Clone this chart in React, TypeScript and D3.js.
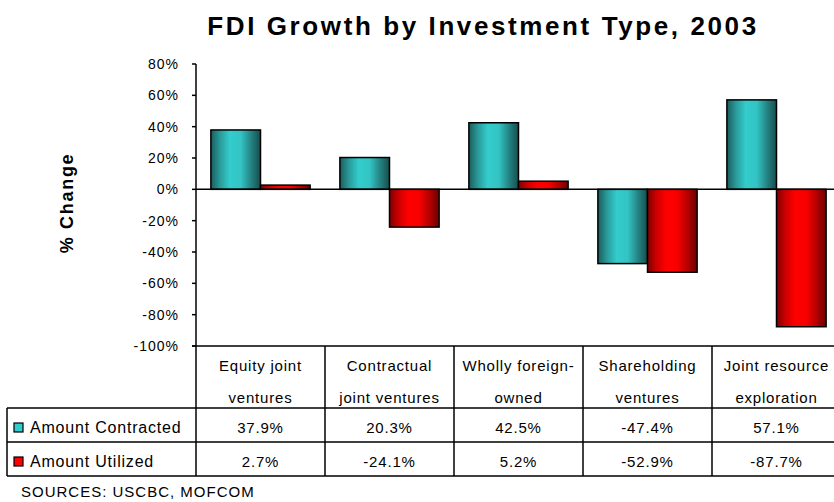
import React, { useEffect, useRef } from 'react';
import * as d3 from 'd3';

const categories = ['Equity joint ventures', 'Contractual joint ventures', 'Wholly foreign-owned', 'Shareholding ventures', 'Joint resource exploration'];
const categoryLines = [
  ['Equity joint', 'ventures'],
  ['Contractual', 'joint ventures'],
  ['Wholly foreign-', 'owned'],
  ['Shareholding', 'ventures'],
  ['Joint resource', 'exploration'],
];
const seriesNames = ['Amount Contracted', 'Amount Utilized'];
const contracted = [37.9, 20.3, 42.5, -47.4, 57.1];
const utilized = [2.7, -24.1, 5.2, -52.9, -87.7];
const yTicks = [80, 60, 40, 20, 0, -20, -40, -60, -80, -100];

const FONT = "'Liberation Sans', Arial, sans-serif";

export default function App() {
  const ref = useRef<SVGSVGElement>(null);

  useEffect(() => {
    const width = 834;
    const height = 502;
    const svg = d3.select(ref.current);
    svg.selectAll('*').remove();

    const left = 196;
    const right = 841;
    const axisBottom = 346;
    const headerBottom = 408;
    const row1Bottom = 442;
    const row2Bottom = 476;
    const legendLeft = 7;

    const defs = svg.append('defs');
    const grads = [
      { id: 'gTeal', stops: ['#1c5c5c', '#2a9999', '#33cccc', '#33c4c4', '#238080', '#174d4d'] },
      { id: 'gRed', stops: ['#800000', '#cc0000', '#ff0000', '#f80000', '#b00000', '#6a0000'] },
    ];
    grads.forEach(g => {
      const lg = defs.append('linearGradient').attr('id', g.id).attr('x1', 0).attr('x2', 1).attr('y1', 0).attr('y2', 0);
      const offs = [0, 0.18, 0.38, 0.6, 0.82, 1];
      g.stops.forEach((c, i) => lg.append('stop').attr('offset', offs[i]).attr('stop-color', c));
    });
    const fills = ['url(#gTeal)', 'url(#gRed)'];
    const legendColors = ['#33cccc', '#ff0000'];

    const x = d3.scaleBand<string>().domain(categories).range([left, right]).paddingInner(0).paddingOuter(0);
    const xInner = d3.scaleBand<number>().domain([0, 1]).range([0, x.bandwidth()]).paddingOuter(0.3).paddingInner(0);
    const y = d3.scaleLinear().domain([-100, 80]).range([axisBottom, 64]);

    // title
    svg.append('text')
      .attr('x', 483)
      .attr('y', 35)
      .attr('text-anchor', 'middle')
      .style('font-family', FONT)
      .style('font-weight', 'bold')
      .style('font-size', '26px')
      .style('letter-spacing', '2.6px')
      .text('FDI Growth by Investment Type, 2003');

    // y title
    svg.append('text')
      .attr('transform', `translate(${73},${203}) rotate(-90)`)
      .attr('text-anchor', 'middle')
      .style('font-family', FONT)
      .style('font-weight', 'bold')
      .style('font-size', '18px')
      .style('letter-spacing', '1.7px')
      .text('% Change');

    // y ticks
    const yg = svg.append('g');
    yTicks.forEach(t => {
      yg.append('line')
        .attr('x1', left - 4).attr('x2', left)
        .attr('y1', y(t)).attr('y2', y(t))
        .attr('stroke', '#000').attr('stroke-width', 1.5);
      yg.append('text')
        .attr('x', 179)
        .attr('y', y(t) + 5)
        .attr('text-anchor', 'end')
        .style('font-family', FONT)
        .style('font-size', '14px')
        .style('letter-spacing', '1px')
        .text(t + '%');
    });

    // bars
    const series = [contracted, utilized];
    series.forEach((vals, si) => {
      svg.append('g').selectAll('rect')
        .data(vals)
        .enter().append('rect')
        .attr('x', (d, i) => (x(categories[i]) as number) + (xInner(si) as number))
        .attr('width', xInner.bandwidth())
        .attr('y', d => y(Math.max(0, d)))
        .attr('height', d => Math.abs(y(d) - y(0)))
        .attr('fill', fills[si])
        .attr('stroke', '#000')
        .attr('stroke-width', 1.5);
    });

    // zero line
    svg.append('line')
      .attr('x1', left).attr('x2', width)
      .attr('y1', y(0)).attr('y2', y(0))
      .attr('stroke', '#000').attr('stroke-width', 1.5);

    // y axis line
    svg.append('line')
      .attr('x1', left).attr('x2', left)
      .attr('y1', y(80)).attr('y2', row2Bottom)
      .attr('stroke', '#000').attr('stroke-width', 1.5);

    // table lines
    const tl = svg.append('g').attr('stroke', '#000').attr('stroke-width', 1.5);
    tl.append('line').attr('x1', left - 4).attr('x2', width).attr('y1', axisBottom).attr('y2', axisBottom);
    [headerBottom, row1Bottom, row2Bottom].forEach(yy => {
      tl.append('line').attr('x1', legendLeft).attr('x2', width).attr('y1', yy).attr('y2', yy);
    });
    tl.append('line').attr('x1', legendLeft).attr('x2', legendLeft).attr('y1', headerBottom).attr('y2', row2Bottom);
    categories.forEach(c => {
      const xx = (x(c) as number) + x.bandwidth();
      tl.append('line').attr('x1', xx).attr('x2', xx).attr('y1', axisBottom).attr('y2', row2Bottom);
    });

    // header labels
    categories.forEach((c, i) => {
      const cx = (x(c) as number) + x.bandwidth() / 2;
      categoryLines[i].forEach((ln, li) => {
        svg.append('text')
          .attr('x', cx)
          .attr('y', 371 + li * 32)
          .attr('text-anchor', 'middle')
          .style('font-family', FONT)
          .style('font-size', '15px')
          .style('letter-spacing', '0.8px')
          .text(ln);
      });
    });

    // rows
    const rowBase = [433, 467];
    series.forEach((vals, si) => {
      svg.append('rect')
        .attr('x', 14).attr('y', rowBase[si] - 10)
        .attr('width', 9).attr('height', 9)
        .attr('fill', legendColors[si])
        .attr('stroke', '#000').attr('stroke-width', 1.2);
      svg.append('text')
        .attr('x', 30)
        .attr('y', rowBase[si])
        .style('font-family', FONT)
        .style('font-size', '16px')
        .style('letter-spacing', '0.8px')
        .text(seriesNames[si]);
      vals.forEach((v, i) => {
        svg.append('text')
          .attr('x', (x(categories[i]) as number) + x.bandwidth() / 2)
          .attr('y', rowBase[si])
          .attr('text-anchor', 'middle')
          .style('font-family', FONT)
          .style('font-size', '15px')
          .style('letter-spacing', '0.8px')
          .text(v.toFixed(1) + '%');
      });
    });

    // source
    svg.append('text')
      .attr('x', 21)
      .attr('y', 497)
      .style('font-family', FONT)
      .style('font-size', '15px')
      .style('letter-spacing', '1px')
      .text('SOURCES: USCBC, MOFCOM');

    svg.attr('width', width).attr('height', height);
  }, []);

  return (
    <svg ref={ref} width={834} height={502} style={{ position: 'absolute', left: 0, top: 0, background: '#fff' }} />
  );
}
